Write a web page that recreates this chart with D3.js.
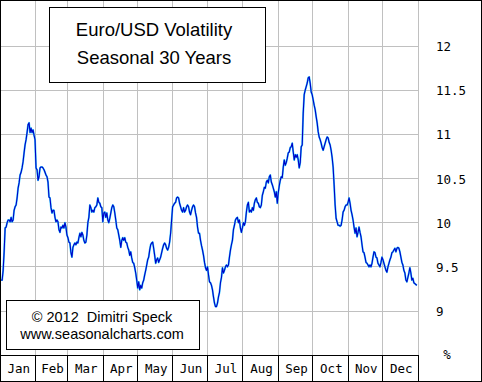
<!DOCTYPE html>
<html>
<head>
<meta charset="utf-8">
<script src="https://cdn.jsdelivr.net/npm/d3@7"></script>
<style>
  html, body { margin: 0; padding: 0; background: #fff; }
  svg { display: block; }
  text { white-space: pre; }
</style>
</head>
<body>
<svg id="chart" width="482" height="382"></svg>
<script>
// ---- data ----
const months = ["Jan","Feb","Mar","Apr","May","Jun","Jul","Aug","Sep","Oct","Nov","Dec"];
const yTicks = [9, 9.5, 10, 10.5, 11, 11.5, 12];
const yTickLabels = ["9", "9.5", "10", "10.5", "11", "11.5", "12"];
const titleLines = ["Euro/USD Volatility", "Seasonal 30 Years"];
const creditLines = ["\u00A9 2012  Dimitri Speck", "www.seasonalcharts.com"];
// seasonal volatility (%), evenly spaced through the year, Jan 1 .. Dec 31
const volatility = [
 9.35,9.35,9.46,9.67,9.94,9.95,10.00,10.03,10.03,10.01,10.06,10.01,10.03,10.14,10.18,10.20,10.28,10.39,10.45,10.54,
 10.57,10.62,10.69,10.79,10.88,10.94,11.02,11.11,11.13,11.02,11.07,11.02,11.05,10.99,10.94,10.62,10.60,10.48,10.52,10.62,
 10.63,10.63,10.62,10.60,10.57,10.54,10.52,10.46,10.29,10.28,10.17,10.11,10.14,10.14,10.06,10.01,10.03,10.01,9.92,9.89,
 9.95,9.94,9.97,9.94,10.00,9.95,9.86,9.83,9.78,9.77,9.66,9.61,9.72,9.75,9.77,9.75,9.78,9.77,9.83,9.88,
 9.84,9.89,9.86,9.80,9.77,9.78,9.86,10.00,10.06,10.20,10.17,10.12,10.14,10.12,10.17,10.18,10.20,10.28,10.23,10.22,
 10.18,10.17,10.01,10.11,10.12,10.06,10.11,10.03,10.00,10.05,10.11,10.17,10.20,10.18,10.11,10.03,9.94,9.92,9.86,9.80,
 9.72,9.80,9.83,9.80,9.83,9.78,9.77,9.72,9.69,9.63,9.67,9.60,9.55,9.54,9.49,9.43,9.35,9.26,9.33,9.24,
 9.29,9.26,9.32,9.35,9.41,9.46,9.52,9.58,9.61,9.69,9.75,9.77,9.78,9.71,9.63,9.54,9.58,9.60,9.55,9.58,
 9.61,9.66,9.71,9.75,9.77,9.75,9.71,9.69,9.72,9.78,9.88,10.03,10.18,10.20,10.22,10.23,10.28,10.29,10.28,10.22,
 10.18,10.14,10.12,10.17,10.12,10.14,10.18,10.20,10.18,10.12,10.09,10.14,10.18,10.20,10.18,10.11,10.06,9.95,9.88,9.88,
 9.80,9.74,9.69,9.63,9.55,9.49,9.46,9.50,9.41,9.33,9.32,9.29,9.24,9.16,9.09,9.05,9.05,9.09,9.16,9.21,
 9.32,9.38,9.49,9.43,9.46,9.50,9.52,9.50,9.52,9.61,9.69,9.75,9.80,9.92,9.97,10.03,10.05,10.06,10.00,10.03,
 9.94,9.89,9.94,10.00,9.97,10.01,10.12,10.20,10.23,10.12,10.14,10.12,10.17,10.14,10.22,10.26,10.28,10.23,10.22,10.18,
 10.17,10.20,10.31,10.35,10.40,10.39,10.46,10.48,10.45,10.52,10.54,10.46,10.43,10.39,10.35,10.29,10.35,10.22,10.34,10.42,
 10.48,10.52,10.51,10.63,10.71,10.65,10.68,10.73,10.79,10.80,10.85,10.86,10.90,10.80,10.71,10.77,10.74,10.77,10.71,10.62,
 10.68,10.86,10.88,11.24,11.45,11.50,11.54,11.58,11.64,11.65,11.58,11.48,11.45,11.39,11.33,11.28,11.20,11.13,11.03,10.97,
 10.94,10.90,10.85,10.82,10.86,10.90,10.94,10.97,10.96,10.91,10.88,10.82,10.74,10.63,10.43,10.20,10.05,10.01,9.97,9.97,
 9.96,9.97,10.03,10.12,10.14,10.18,10.20,10.20,10.23,10.28,10.22,10.14,10.09,10.03,9.95,9.88,9.94,9.84,9.89,9.95,
 9.89,9.84,9.75,9.67,9.66,9.61,9.55,9.54,9.52,9.50,9.52,9.50,9.54,9.61,9.67,9.66,9.61,9.60,9.54,9.52,
 9.50,9.55,9.61,9.58,9.54,9.50,9.46,9.44,9.50,9.54,9.58,9.61,9.66,9.67,9.69,9.71,9.67,9.71,9.72,9.71,
 9.67,9.61,9.55,9.52,9.46,9.43,9.35,9.33,9.38,9.43,9.49,9.43,9.35,9.37,9.32,9.31,9.30,9.29
];

// ---- layout ----
const W = 482, H = 382;
const plotRight = 418, stripTop = 355;
const svg = d3.select("#chart");

const yearStart = new Date(2013, 0, 1), yearEnd = new Date(2014, 0, 1);
const x = d3.scaleTime().domain([yearStart, yearEnd]).range([0, plotRight]);
const y = d3.scaleLinear().domain([9, 12]).range([311, 46]);
const idxToDate = d3.scaleLinear().domain([0, volatility.length - 1])
  .range([new Date(2013, 0, 2), new Date(2013, 11, 31)]);

const crisp = v => Math.floor(v) + 0.5;

svg.append("rect").attr("x", 0).attr("y", 0).attr("width", W).attr("height", H).attr("fill", "#fff");

// grid
const monthStarts = d3.timeMonth.range(yearStart, yearEnd);
const grid = svg.append("g").attr("stroke", "#c0c0c0").attr("stroke-width", 1).attr("shape-rendering", "crispEdges");
grid.selectAll("line.h").data(yTicks).join("line").attr("class", "h")
  .attr("x1", 0).attr("x2", plotRight + 1)
  .attr("y1", d => crisp(y(d))).attr("y2", d => crisp(y(d)));
grid.selectAll("line.v").data(monthStarts.slice(1).concat([yearEnd])).join("line").attr("class", "v")
  .attr("x1", d => crisp(x(d))).attr("x2", d => crisp(x(d)))
  .attr("y1", 0).attr("y2", stripTop);

// right axis
const axisG = svg.append("g").attr("transform", `translate(${plotRight + 18},0)`);
const axis = d3.axisRight(y).tickValues(yTicks).tickSize(0).tickPadding(0)
  .tickFormat((d, i) => yTickLabels[i]);
axisG.call(axis);
axisG.select(".domain").remove();
axisG.selectAll("text").attr("font-family", "DejaVu Sans Mono").attr("font-size", "12.5px")
  .attr("fill", "#000").attr("dy", "0.36em");
svg.append("text").attr("x", 447).attr("y", 359).attr("text-anchor", "middle")
  .attr("font-family", "DejaVu Sans Mono").attr("font-size", "12.5px").text("%");

// line
const line = d3.line().x((d, i) => x(idxToDate(i))).y(d => y(d)).curve(d3.curveLinear);
svg.append("path").datum(volatility).attr("d", line).attr("fill", "none")
  .attr("stroke", "#33ccff").attr("stroke-width", 1.9).attr("stroke-linejoin", "round");
svg.append("path").datum(volatility).attr("d", line).attr("fill", "none")
  .attr("stroke", "#0000c8").attr("stroke-width", 1.1).attr("stroke-linejoin", "round");

// month strip
const strip = svg.append("g").attr("shape-rendering", "crispEdges");
strip.append("line").attr("x1", 0).attr("x2", plotRight + 1).attr("y1", stripTop + 0.5).attr("y2", stripTop + 0.5)
  .attr("stroke", "#000");
strip.selectAll("line.sep").data(monthStarts.slice(1).concat([yearEnd])).join("line").attr("class", "sep")
  .attr("x1", d => crisp(x(d))).attr("x2", d => crisp(x(d)))
  .attr("y1", stripTop).attr("y2", H).attr("stroke", "#000");
svg.selectAll("text.month").data(monthStarts).join("text").attr("class", "month")
  .attr("x", d => (x(d) + x(d3.timeMonth.offset(d, 1))) / 2 + 1)
  .attr("y", 372.5).attr("text-anchor", "middle")
  .attr("font-family", "DejaVu Sans Mono").attr("font-size", "12.5px").attr("fill", "#000")
  .text((d, i) => months[i]);

// title box
const tb = svg.append("g");
tb.append("rect").attr("x", 49.5).attr("y", 7.5).attr("width", 216).attr("height", 75)
  .attr("fill", "#fff").attr("stroke", "#000");
tb.selectAll("text").data(titleLines).join("text")
  .attr("x", 154).attr("y", (d, i) => 36 + i * 28).attr("text-anchor", "middle")
  .attr("font-family", "Liberation Sans, Arial, sans-serif").attr("font-size", "18.5px").attr("fill", "#000")
  .text(d => d);

// credit box
const cb = svg.append("g");
cb.append("rect").attr("x", 6.5).attr("y", 300.5).attr("width", 193).attr("height", 49)
  .attr("fill", "#fff").attr("stroke", "#000");
cb.selectAll("text").data(creditLines).join("text")
  .attr("x", 102).attr("y", (d, i) => 322 + i * 17).attr("text-anchor", "middle")
  .attr("font-family", "Liberation Sans, Arial, sans-serif").attr("font-size", "14.5px").attr("fill", "#000")
  .text(d => d);

// outer frame
svg.append("rect").attr("x", 0.5).attr("y", 0.5).attr("width", W - 1).attr("height", H - 1)
  .attr("fill", "none").attr("stroke", "#000").attr("shape-rendering", "crispEdges");
</script>
</body>
</html>
